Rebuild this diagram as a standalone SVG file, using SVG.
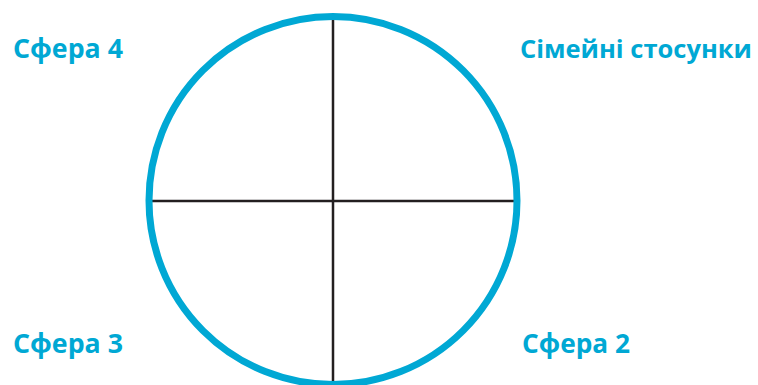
<svg xmlns="http://www.w3.org/2000/svg" width="758" height="385" viewBox="0 0 758 385">
<style>
.lbl{font-family:"Open Sans","Noto Sans","Liberation Sans",sans-serif;font-weight:bold;font-size:27px;fill:#00A8D4}
.axis{stroke:#231F20;stroke-width:2.5;fill:none}
</style>
<rect width="758" height="385" fill="#fff"/>
<g id="connectors">
<line class="axis" x1="333" y1="19" x2="333" y2="385"/>
<line class="axis" x1="151" y1="201" x2="516" y2="201"/>
</g>
<g id="circle">
<circle cx="333" cy="200.5" r="184" fill="none" stroke="#00A8D4" stroke-width="7"/>
</g>
<g id="sphere4"><text class="lbl" x="13" y="58" textLength="110" lengthAdjust="spacingAndGlyphs">Сфера 4</text></g>
<g id="family"><text class="lbl" x="520" y="58" style="font-size:25.5px">Сімейні стосунки</text></g>
<g id="sphere3"><text class="lbl" x="13" y="353" textLength="110" lengthAdjust="spacingAndGlyphs">Сфера 3</text></g>
<g id="sphere2"><text class="lbl" x="522" y="353" textLength="108" lengthAdjust="spacingAndGlyphs">Сфера 2</text></g>
</svg>
